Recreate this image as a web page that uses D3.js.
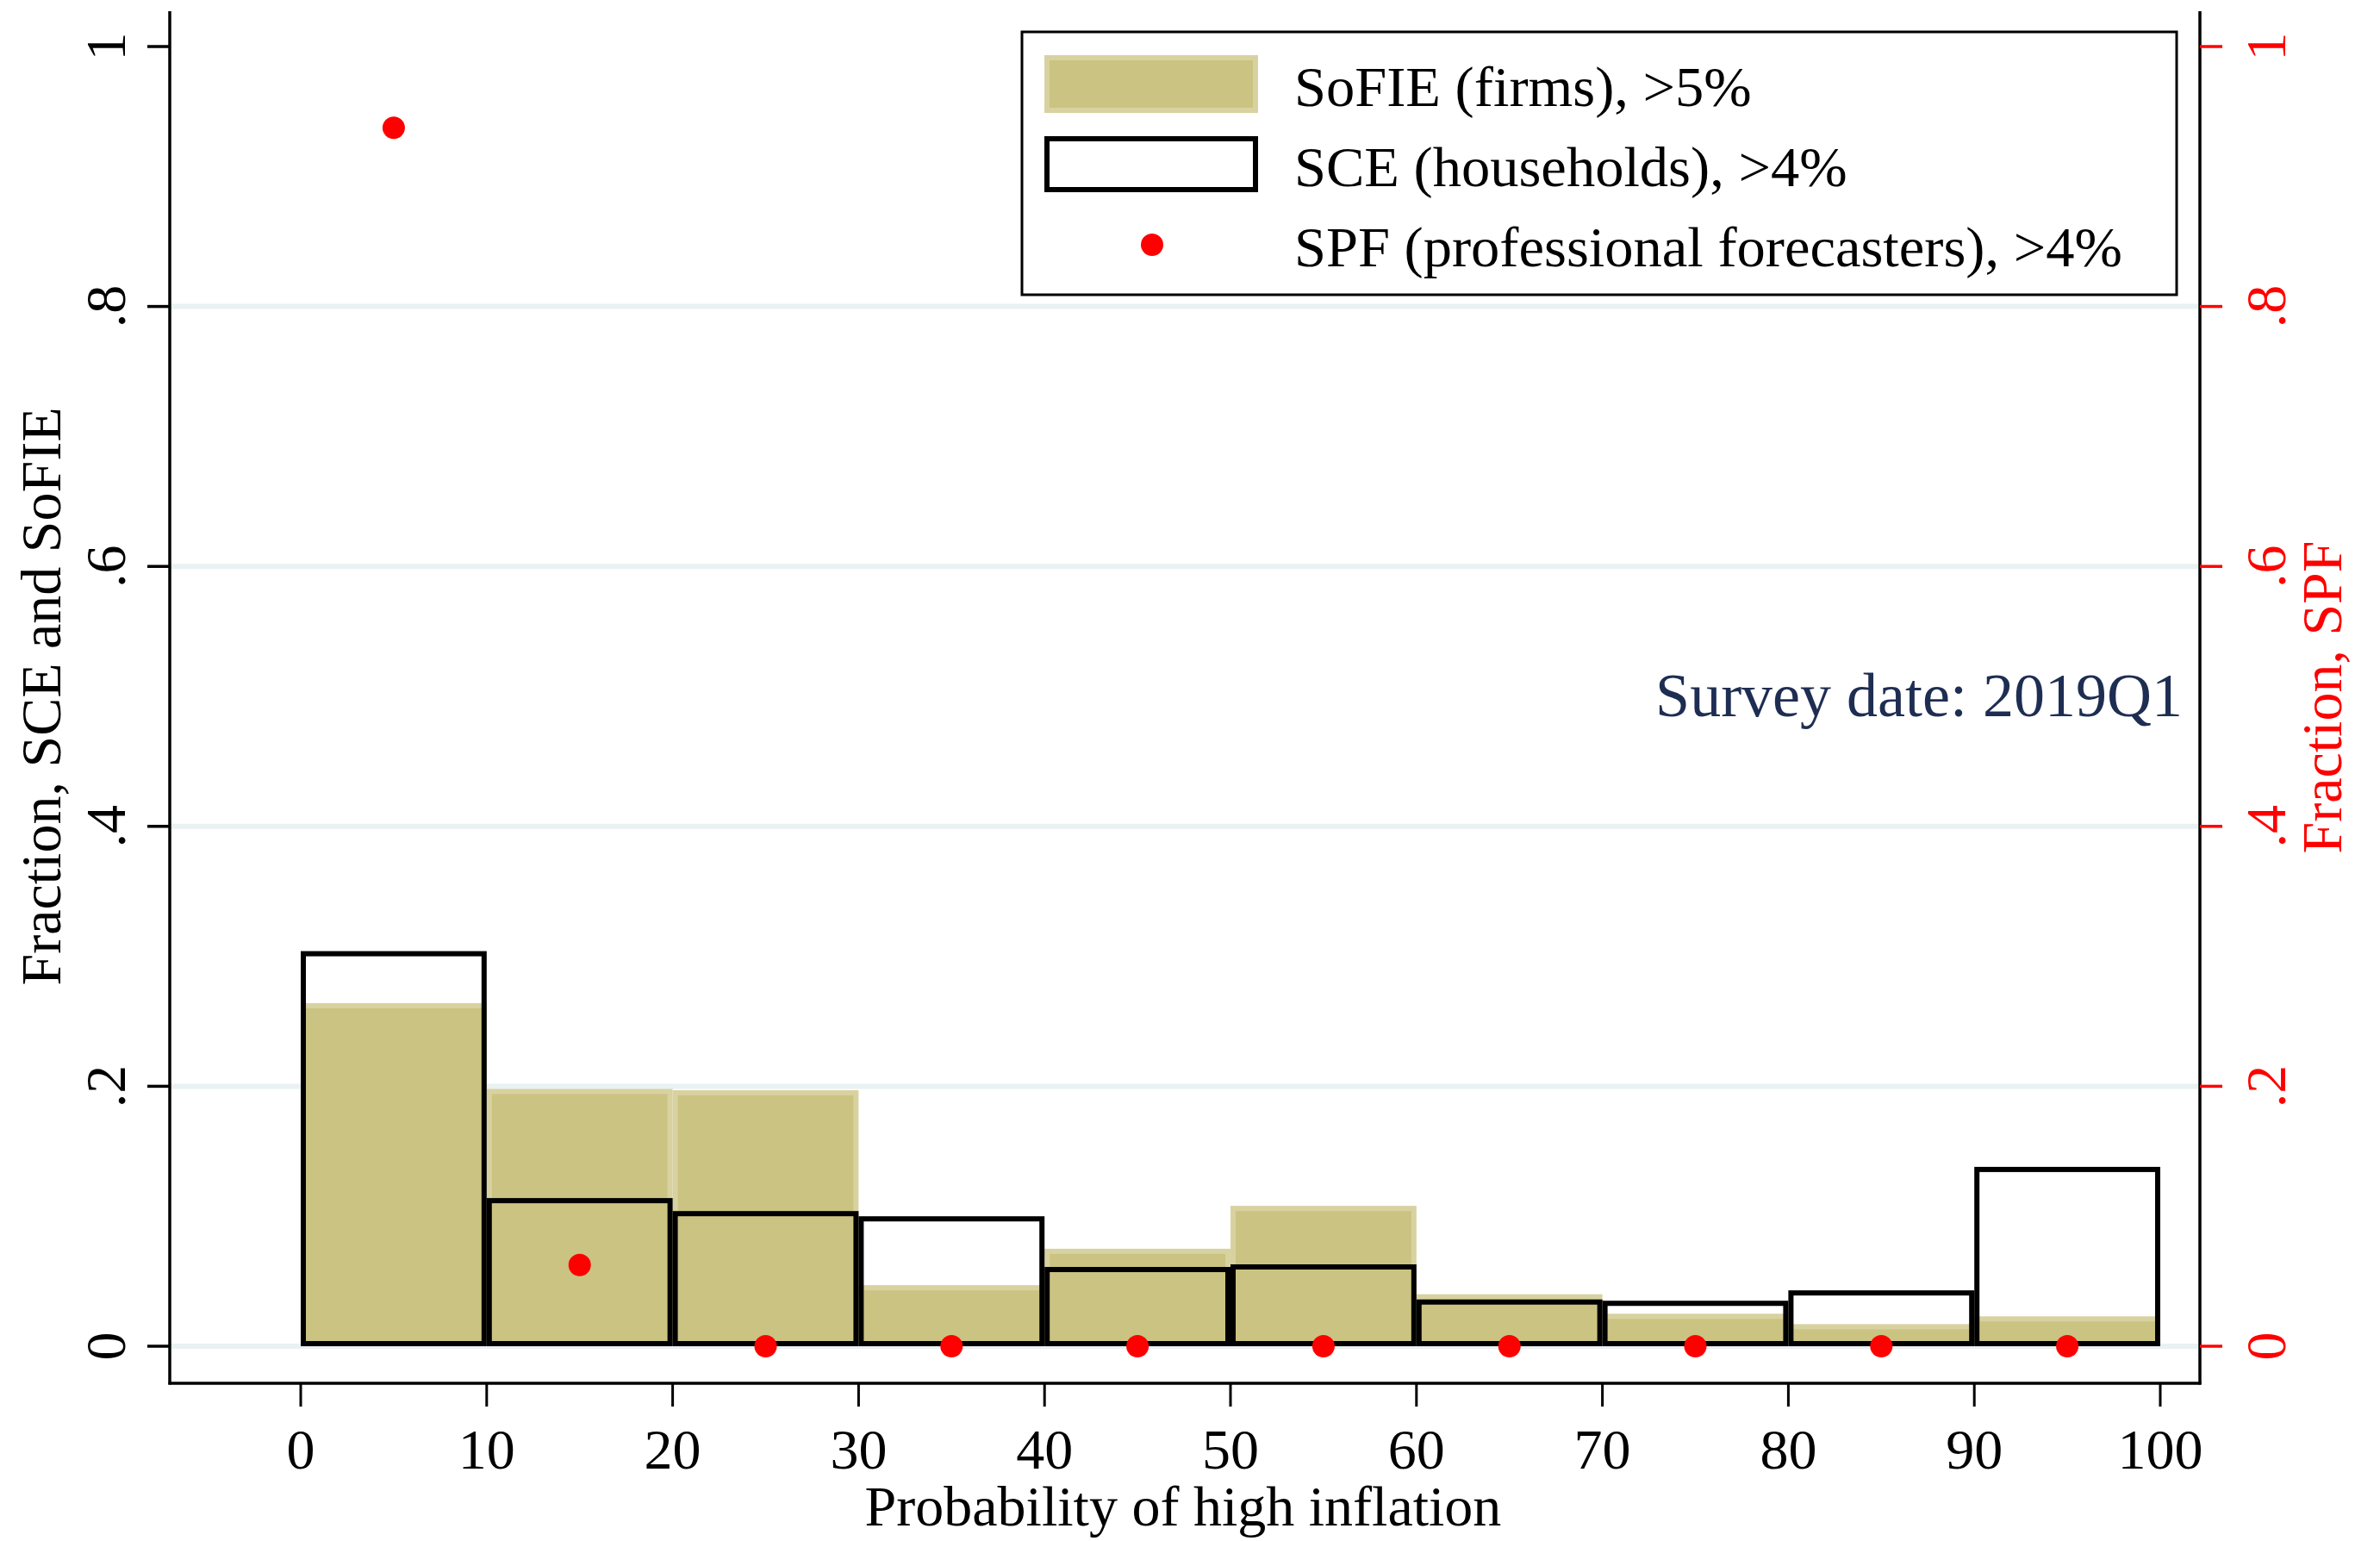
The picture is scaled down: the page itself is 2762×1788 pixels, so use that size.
<!DOCTYPE html>
<html>
<head>
<meta charset="utf-8">
<script src="https://cdn.jsdelivr.net/npm/d3@7/dist/d3.min.js"></script>
<style>
  html, body { margin: 0; padding: 0; background: #ffffff; }
  svg { display: block; }
  text { font-family: "Liberation Serif", "Times New Roman", serif; }
</style>
</head>
<body>
<svg id="chart" width="2762" height="1788"></svg>
<script>
// Histogram bins: probability of high inflation (percent), lower edges
const binStarts = [0, 10, 20, 30, 40, 50, 60, 70, 80, 90];
const binWidth = 10;

// SoFIE (firms), probability of inflation > 5%
const sofieFrac = [0.264, 0.198, 0.197, 0.047, 0.075, 0.108, 0.040, 0.025, 0.017, 0.023];
// SCE (households), probability of inflation > 4%
const sceFrac = [0.302, 0.112, 0.102, 0.098, 0.059, 0.061, 0.034, 0.033, 0.041, 0.136];
// SPF (professional forecasters), probability of inflation > 4%, at bin midpoints
const spfMid = [5, 15, 25, 35, 45, 55, 65, 75, 85, 95];
const spfFrac = [0.9375, 0.0625, 0, 0, 0, 0, 0, 0, 0, 0];

const xTicks = [0, 10, 20, 30, 40, 50, 60, 70, 80, 90, 100];
const yTicks = [0, 0.2, 0.4, 0.6, 0.8, 1];
const yTickLabels = ["0", ".2", ".4", ".6", ".8", "1"];
const gridValues = [0, 0.2, 0.4, 0.6, 0.8];

const legendLabels = ["SoFIE (firms), >5%", "SCE (households), >4%", "SPF (professional forecasters), >4%"];
const noteText = "Survey date: 2019Q1";

const svg = d3.select("#chart");

const plot = { left: 197, right: 2553, top: 13, bottom: 1605 };
const x = d3.scaleLinear().domain([0, 100]).range([349, 2507]);
const yL = d3.scaleLinear().domain([0, 1]).range([1562, 54]);
const yR = d3.scaleLinear().domain([0, 1]).range([1562, 54]);

const sofieFill = "#cbc382";
const sofieEdge = "#d8d2a0";
const gridColor = "#e9f1f3";
const red = "#ff0000";
const navy = "#1e2d52";
const fontSize = 66;

// grid lines
svg.append("g").selectAll("line").data(gridValues).join("line")
  .attr("x1", plot.left).attr("x2", plot.right)
  .attr("y1", d => yL(d)).attr("y2", d => yL(d))
  .attr("stroke", gridColor).attr("stroke-width", 6);

// SoFIE bars: filled with a lighter inner edge
const sw = 6;
svg.append("g").selectAll("rect").data(binStarts).join("rect")
  .attr("x", d => x(d) + sw / 2)
  .attr("width", x(binWidth) - x(0) - sw)
  .attr("y", (d, i) => yL(sofieFrac[i]) + sw / 2)
  .attr("height", (d, i) => yL(0) - yL(sofieFrac[i]) - sw)
  .attr("fill", sofieFill)
  .attr("stroke", sofieEdge)
  .attr("stroke-width", sw);

// SCE bars: black outlines
svg.append("g").selectAll("rect").data(binStarts).join("rect")
  .attr("x", d => x(d) + sw / 2)
  .attr("width", x(binWidth) - x(0) - sw)
  .attr("y", (d, i) => yL(sceFrac[i]))
  .attr("height", (d, i) => yL(0) - yL(sceFrac[i]) - sw / 2)
  .attr("fill", "none")
  .attr("stroke", "#000")
  .attr("stroke-width", sw);

// SPF points on the right axis scale
svg.append("g").selectAll("circle").data(spfMid).join("circle")
  .attr("cx", d => x(d))
  .attr("cy", (d, i) => yR(spfFrac[i]))
  .attr("r", 13)
  .attr("fill", red);

// Axes lines
svg.append("line").attr("x1", plot.left).attr("x2", plot.left)
  .attr("y1", plot.top).attr("y2", plot.bottom + 1.5)
  .attr("stroke", "#000").attr("stroke-width", 3.5);
svg.append("line").attr("x1", plot.right).attr("x2", plot.right)
  .attr("y1", plot.top).attr("y2", plot.bottom + 1.5)
  .attr("stroke", "#000").attr("stroke-width", 3.5);
svg.append("line").attr("x1", plot.left - 1.5).attr("x2", plot.right + 1.5)
  .attr("y1", plot.bottom).attr("y2", plot.bottom)
  .attr("stroke", "#000").attr("stroke-width", 3.5);

// Left axis ticks and labels
const leftG = svg.append("g");
leftG.selectAll("line").data(yTicks).join("line")
  .attr("x1", plot.left - 26).attr("x2", plot.left)
  .attr("y1", d => yL(d)).attr("y2", d => yL(d))
  .attr("stroke", "#000").attr("stroke-width", 3.5);
leftG.selectAll("text").data(yTicks).join("text")
  .attr("transform", d => `translate(145,${yL(d)}) rotate(-90)`)
  .attr("text-anchor", "middle")
  .attr("font-size", fontSize)
  .attr("fill", "#000")
  .text((d, i) => yTickLabels[i]);

// Right axis ticks and labels (red)
const rightG = svg.append("g");
rightG.selectAll("line").data(yTicks).join("line")
  .attr("x1", plot.right).attr("x2", plot.right + 26)
  .attr("y1", d => yR(d)).attr("y2", d => yR(d))
  .attr("stroke", red).attr("stroke-width", 3.5);
rightG.selectAll("text").data(yTicks).join("text")
  .attr("transform", d => `translate(2652,${yR(d)}) rotate(-90)`)
  .attr("text-anchor", "middle")
  .attr("font-size", fontSize)
  .attr("fill", red)
  .text((d, i) => yTickLabels[i]);

// Bottom axis ticks and labels
const bottomG = svg.append("g");
bottomG.selectAll("line").data(xTicks).join("line")
  .attr("x1", d => x(d)).attr("x2", d => x(d))
  .attr("y1", plot.bottom).attr("y2", plot.bottom + 27)
  .attr("stroke", "#000").attr("stroke-width", 3);
bottomG.selectAll("text").data(xTicks).join("text")
  .attr("x", d => x(d)).attr("y", 1704)
  .attr("text-anchor", "middle")
  .attr("font-size", fontSize)
  .attr("fill", "#000")
  .text(d => d);

// Axis titles
svg.append("text")
  .attr("x", (plot.left + plot.right) / 2 - 2).attr("y", 1770)
  .attr("text-anchor", "middle").attr("font-size", fontSize).attr("fill", "#000")
  .text("Probability of high inflation");
svg.append("text")
  .attr("transform", `translate(70,808) rotate(-90)`)
  .attr("text-anchor", "middle").attr("font-size", fontSize).attr("fill", "#000")
  .text("Fraction, SCE and SoFIE");
svg.append("text")
  .attr("transform", `translate(2717,809) rotate(-90)`)
  .attr("text-anchor", "middle").attr("font-size", fontSize).attr("fill", red)
  .text("Fraction, SPF");

// Note
svg.append("text")
  .attr("x", 2533).attr("y", 831)
  .attr("text-anchor", "end").attr("font-size", 72).attr("fill", navy)
  .text(noteText);

// Legend
const lg = svg.append("g");
lg.append("rect").attr("x", 1186).attr("y", 37).attr("width", 1340).attr("height", 305)
  .attr("fill", "#fff").attr("stroke", "#000").attr("stroke-width", 3);
lg.append("rect").attr("x", 1215).attr("y", 67).attr("width", 242).attr("height", 61)
  .attr("fill", sofieFill).attr("stroke", sofieEdge).attr("stroke-width", sw);
lg.append("rect").attr("x", 1215).attr("y", 161).attr("width", 242).attr("height", 59)
  .attr("fill", "#fff").attr("stroke", "#000").attr("stroke-width", sw);
lg.append("circle").attr("cx", 1337).attr("cy", 284).attr("r", 13).attr("fill", red);
lg.selectAll("text.leg").data(legendLabels).join("text")
  .attr("class", "leg")
  .attr("x", 1502)
  .attr("y", (d, i) => 123 + i * 93)
  .attr("font-size", 66.5)
  .attr("fill", "#000")
  .text(d => d);
</script>
</body>
</html>
